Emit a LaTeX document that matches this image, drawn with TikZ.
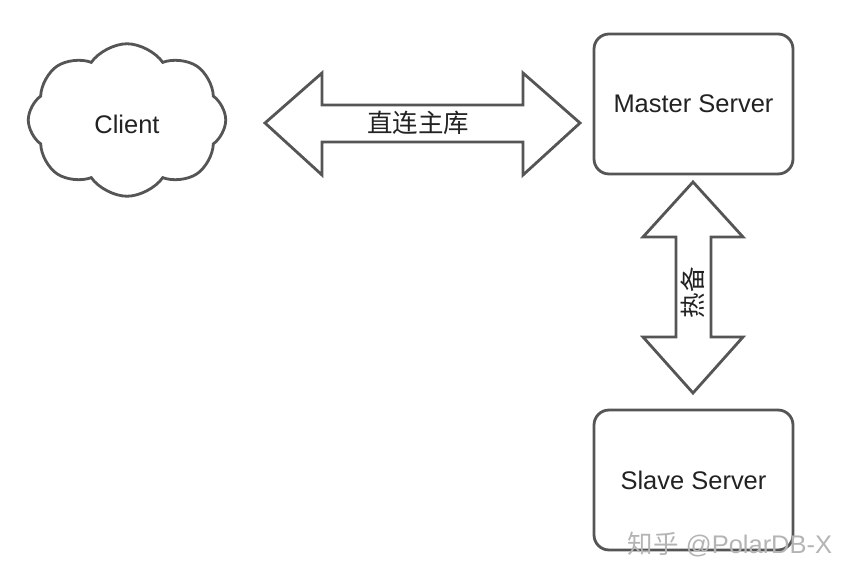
\documentclass[tikz,border=0pt]{standalone}
\usepackage{fontspec}
\setmainfont{Liberation Sans}
\newfontfamily\cjk{Noto Sans CJK SC}
\usetikzlibrary{shapes.symbols}
\definecolor{linegray}{HTML}{555555}
\definecolor{textgray}{HTML}{222222}
\definecolor{markgray}{HTML}{B4B4B4}

\begin{document}
\begin{tikzpicture}[x=0.02cm, y=-0.02cm,
        every node/.style={text=textgray, font=\fontsize{14.5}{17}\selectfont},
        server/.style={draw=linegray, line width=1.6pt, rounded corners=0.3cm,
            minimum width=3.98cm, minimum height=2.8cm},
        fatarrow/.style={draw=linegray, line width=1.6pt, line join=miter}]
    \useasboundingbox (0,0) rectangle (854,580);

    % Nodi
    \node (client) at (127,120) [cloud, cloud puffs=8, cloud puff arc=110, aspect=1.35,
        draw=linegray, line width=1.6pt, minimum width=3.95cm, minimum height=3.05cm] {};
    \node (clientlabel) at (127,124) {Client};
    \node (master) at (693.5,104) [server] {Master Server};
    \node (slave) at (693.5,480) [server] {Slave Server};

    % Frecce
    \draw[fatarrow] (265,123) -- (322,73) -- (322,105) -- (523,105) -- (523,73)
        -- (580,123) -- (523,175) -- (523,142) -- (322,142) -- (322,175) -- cycle;
    \node (direct) at (418,123) {\cjk 直连主库};
    \draw[fatarrow] (693,182) -- (743,237) -- (711,237) -- (711,337) -- (743,337)
        -- (693,393) -- (643,337) -- (676,337) -- (676,237) -- (643,237) -- cycle;
    \node (backup) at (693,293) [rotate=90] {\cjk 热备};

    % Filigrana
    \node (mark) at (730,545) [text=markgray] {{\cjk 知乎} @PolarDB-X};
\end{tikzpicture}
\end{document}
